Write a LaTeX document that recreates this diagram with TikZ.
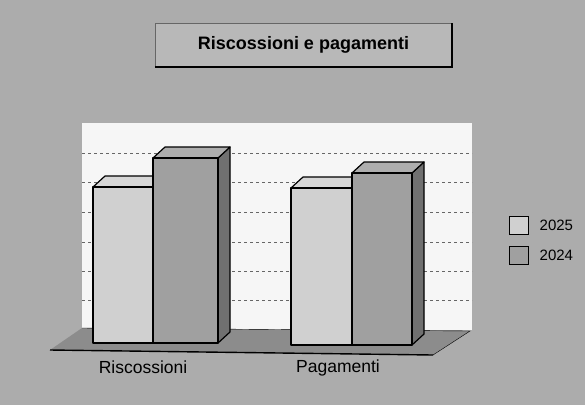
\documentclass[tikz,border=0pt]{standalone}
\usepackage{fontspec}
\setmainfont{Liberation Sans}
\usepackage{tikz}
\usetikzlibrary{positioning}
\definecolor{bggray}{RGB}{172,172,172}
\definecolor{walls}{RGB}{246,246,246}
\definecolor{floorgray}{RGB}{140,140,140}
\definecolor{lightbar}{RGB}{208,208,208}
\definecolor{darkbar}{RGB}{160,160,160}
\tikzset{every node/.style={font=\fontsize{17.5}{20}\selectfont},
  barline/.style={draw=black, line width=1.2pt, line join=round},
  gridline/.style={gray!80!black, dashed, thin},
  legbox/.style={draw=black, line width=0.9pt, minimum width=19pt, minimum height=18pt, inner sep=0pt}}

\begin{document}
\begin{tikzpicture}[x=1pt,y=-1pt]
      \useasboundingbox (0,0) rectangle (585,405);
      \fill[bggray] (0,0) rectangle (585,405);
      % title
      \node[fill=bggray!85!white, draw=black!60, thin, minimum width=297pt, minimum height=44pt,
        font=\bfseries\fontsize{18}{21}\selectfont] (title) at (303.5,45) {Riscossioni e pagamenti};
      \draw[line width=2pt] (title.south west) -- (title.south east) -- (title.north east);
      % back wall and floor
      \fill[walls] (82,123) rectangle (472,330);
      \foreach\y in {153, 182, 212, 242, 271, 300}
        \draw[gridline] (82,\y) -- (472,\y);
      \fill[floorgray] (82,328) -- (470,331) -- (433,355) -- (50,350) -- cycle;
      \draw[thin] (82,328) -- (470,331) -- (433,355);
      \draw[line width=1.4pt] (50,350) -- (433,355);
      % bars: left, right, top, bottom, colour
      \foreach\xl/\xr/\yt/\yb/\col in {93/153/187/343/lightbar, 153/218/158/343/darkbar,
        291/352/188/345/lightbar, 352/412/173/345/darkbar} {
        \draw[barline, fill=\col!70!black] (\xr,\yt) -- (\xr+12,\yt-11) -- (\xr+12,\yb-11) -- (\xr,\yb) -- cycle;
        \draw[barline, fill=\col!85!white] (\xl,\yt) -- (\xl+12,\yt-11) -- (\xr+12,\yt-11) -- (\xr,\yt) -- cycle;
        \draw[barline, fill=\col] (\xl,\yt) rectangle (\xr,\yb);
      }
      % category labels
      \node (riscossioni) at (143,367) {Riscossioni};
      \node (pagamenti) at (338,368) {Pagamenti};
      % legend
      \node[legbox, fill=lightbar] (leg25) at (518.5,225) {};
      \node[legbox, fill=darkbar] (leg24) at (518.5,255) {};
      \node[right=11pt of leg25, inner sep=0pt, font=\fontsize{15}{18}\selectfont] (txt25) {2025};
      \node[right=11pt of leg24, inner sep=0pt, font=\fontsize{15}{18}\selectfont] (txt24) {2024};
    \end{tikzpicture}
\end{document}
